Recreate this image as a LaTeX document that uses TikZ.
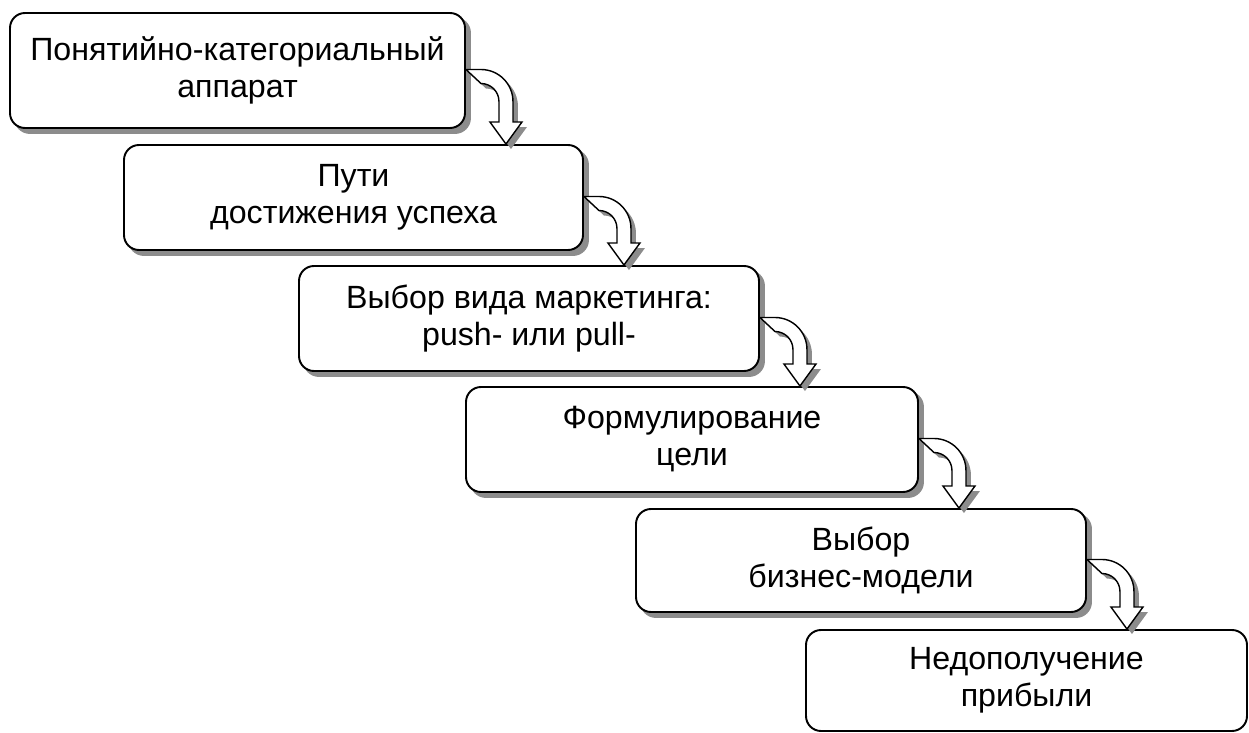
\documentclass[tikz,border=0pt]{standalone}
\usepackage{fontspec}
\setmainfont{Liberation Sans}
\usetikzlibrary{calc}
\definecolor{shadowgray}{gray}{0.55}
\tikzset{
    stage/.style={draw,line width=1.1pt,rounded corners=0.3cm,fill=white,
        inner sep=0pt,align=center,font=\fontsize{18.3}{21}\selectfont},
    boxshadow/.style={preaction={fill=shadowgray,draw=shadowgray,
        transform canvas={xshift=0.1cm,yshift=-0.1cm}}},
    bentarrow/.style={draw,line width=0.8pt,fill=white,line join=miter,
        preaction={fill=shadowgray,transform canvas={xshift=0.1cm,yshift=-0.1cm}}},
}
% bent block arrow from the right side of #1 down to the top of #2
\newcommand\stagearrow[2]{%
    \path ($(#1.east)+(0,-6)$) coordinate (s) ++(40,0) coordinate (t0);
    \path (t0 |- #2.north) coordinate (t);
    \draw[bentarrow] ($(s)+(0,7)$) -- ++(15,0) arc[start angle=90,end angle=0,radius=32]
        -- ($(t)+(7,22)$) -- ++(9,0) -- (t) -- ($(t)+(-16,22)$) -- ++(9,0)
        -- ($(s)+(33,-25)$) arc[start angle=0,end angle=90,radius=18] -- cycle;
}
\begin{document}
\begin{tikzpicture}[x=0.02cm,y=0.02cm]
    \useasboundingbox (0,0) rectangle (1249,-733);
    \node[stage,boxshadow,minimum width=455*0.02cm,minimum height=115*0.02cm]
        (s1) at (237.5,-70.5) {Понятийно-категориальный\\аппарат};
    \node[stage,boxshadow,minimum width=459*0.02cm,minimum height=105*0.02cm]
        (s2) at (353.5,-197.5) {Пути\\достижения успеха};
    \node[stage,boxshadow,minimum width=460*0.02cm,minimum height=105*0.02cm]
        (s3) at (529,-318.5) {Выбор вида маркетинга:\\push- или pull-};
    \node[stage,boxshadow,minimum width=452*0.02cm,minimum height=105*0.02cm]
        (s4) at (692,-439.5) {Формулирование\\цели};
    \node[stage,boxshadow,minimum width=450*0.02cm,minimum height=103*0.02cm]
        (s5) at (861,-560.5) {Выбор\\бизнес-модели};
    \node[stage,minimum width=441*0.02cm,minimum height=101*0.02cm]
        (s6) at (1026.5,-680.5) {Недополучение\\прибыли};
    % arrows between the stages
    \foreach \a/\b in {s1/s2,s2/s3,s3/s4,s4/s5,s5/s6}
        {\stagearrow{\a}{\b}}
\end{tikzpicture}
\end{document}
